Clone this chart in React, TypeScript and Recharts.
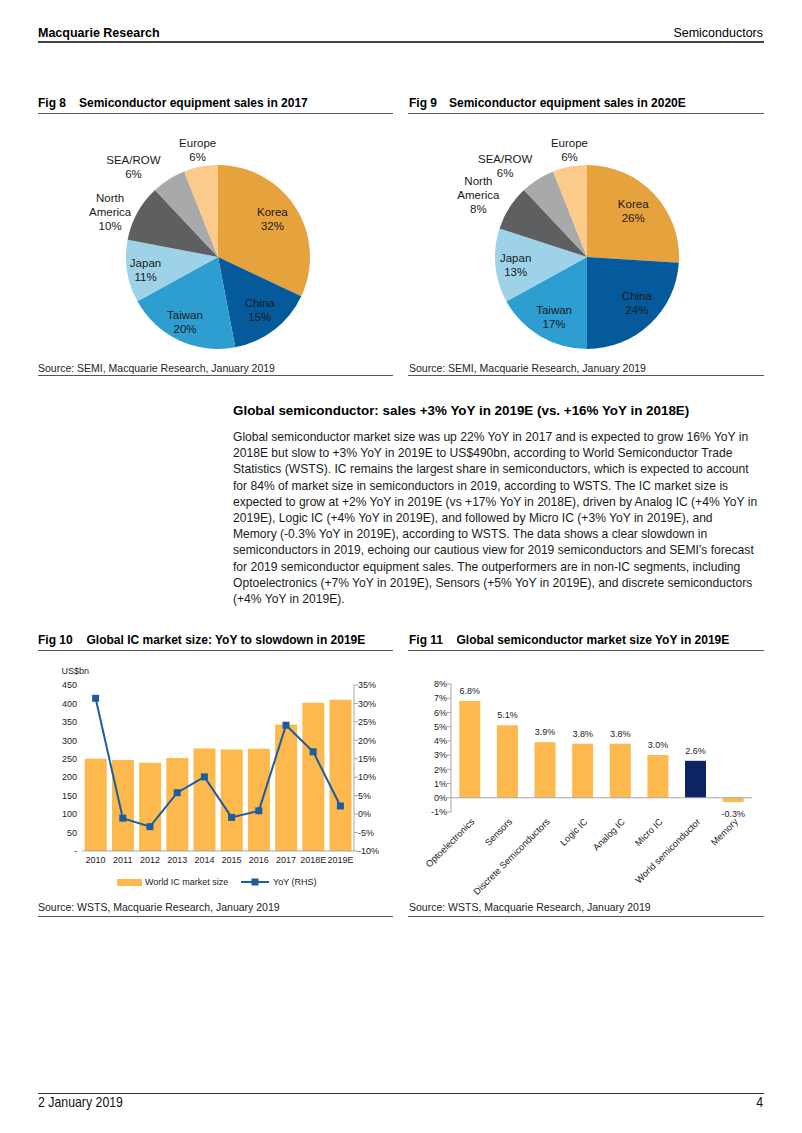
import React from "react";
import {
  PieChart,
  Pie,
  Cell,
  ComposedChart,
  BarChart,
  Bar,
  Line,
  XAxis,
  YAxis,
  ReferenceLine,
  LabelList,
} from "recharts";

const FONT = '"Liberation Sans", Arial, Helvetica, sans-serif';

// Fig 8 / Fig 9 - equipment sales share by region
const regions = ["Korea", "China", "Taiwan", "Japan", "North America", "SEA/ROW", "Europe"];
const share2017 = [32, 15, 20, 11, 10, 6, 6];
const share2020E = [26, 24, 17, 13, 8, 6, 6];
const regionColors = ["#E6A23C", "#045A9B", "#2E9DD0", "#9ED2E8", "#5E5F61", "#A8A9AB", "#FCCB8C"];

// label placement: [radius factor, angle nudge in degrees]
const labelPos2017 = [[0.72, 2.4], [0.73, 0.6], [0.79, -1.8], [0.8, 1.1], [1.27, 6.2], [1.34, 10.9], [1.18, 0]];
const labelPos2020 = [[0.71, 1.8], [0.74, 3.9], [0.74, 1.7], [0.78, 0.7], [1.36, 2.6], [1.33, 9.6], [1.18, -1.5]];

// Fig 10 - global IC market size
const years = ["2010", "2011", "2012", "2013", "2014", "2015", "2016", "2017", "2018E", "2019E"];
const icMarketSize = [250, 247, 239, 252, 278, 275, 277, 343, 402, 410];
const icYoY = [31.4, -1.1, -3.4, 5.8, 10.1, -0.9, 0.9, 24.1, 16.9, 2.2];
const sizeTicks = [0, 50, 100, 150, 200, 250, 300, 350, 400, 450];
const yoyTicks = [-10, -5, 0, 5, 10, 15, 20, 25, 30, 35];

// Fig 11 - semiconductor segments YoY 2019E
const segments = [
  "Optoelectronics",
  "Sensors",
  "Discrete Semiconductors",
  "Logic IC",
  "Analog IC",
  "Micro IC",
  "World semiconductor",
  "Memory",
];
const segmentYoY = [6.8, 5.1, 3.9, 3.8, 3.8, 3.0, 2.6, -0.3];
const segTicks = [-1, 0, 1, 2, 3, 4, 5, 6, 7, 8];

const paragraph = [
  "Global semiconductor market size was up 22% YoY in 2017 and is expected to grow 16% YoY in",
  "2018E but slow to +3% YoY in 2019E to US$490bn, according to World Semiconductor Trade",
  "Statistics (WSTS). IC remains the largest share in semiconductors, which is expected to account",
  "for 84% of market size in semiconductors in 2019, according to WSTS. The IC market size is",
  "expected to grow at +2% YoY in 2019E (vs +17% YoY in 2018E), driven by Analog IC (+4% YoY in",
  "2019E), Logic IC (+4% YoY in 2019E), and followed by Micro IC (+3% YoY in 2019E), and",
  "Memory (-0.3% YoY in 2019E), according to WSTS. The data shows a clear slowdown in",
  "semiconductors in 2019, echoing our cautious view for 2019 semiconductors and SEMI\u2019s forecast",
  "for 2019 semiconductor equipment sales. The outperformers are in non-IC segments, including",
  "Optoelectronics (+7% YoY in 2019E), Sensors (+5% YoY in 2019E), and discrete semiconductors",
  "(+4% YoY in 2019E).",
];

const ORANGE = "#FDB94D";
const NAVY = "#0C2461";
const LINE_BLUE = "#1B5E9E";
const AXIS_GREY = "#A6A6A6";

const pie2017 = regions.map((name, i) => ({ name, value: share2017[i] }));
const pie2020 = regions.map((name, i) => ({ name, value: share2020E[i] }));
const icData = years.map((year, i) => ({ year, size: icMarketSize[i], yoy: icYoY[i] }));
const segData = segments.map((name, i) => ({ name, yoy: segmentYoY[i] }));

const RAD = Math.PI / 180;

function makePieLabel(pos: number[][]) {
  return (props: any) => {
    const { cx, cy, midAngle, outerRadius, index, name, value } = props;
    const [f, nudge] = pos[index];
    const a = (midAngle + nudge) * RAD;
    const x = cx + outerRadius * f * Math.cos(-a);
    const y = cy + outerRadius * f * Math.sin(-a);
    const lines = [...String(name).split(" "), `${value}%`];
    const lh = 14;
    return (
      <text x={x} y={y} textAnchor="middle" fontSize={11.5} fill="#1a1a1a" fontFamily={FONT}>
        {lines.map((t, k) => (
          <tspan key={k} x={x} dy={k === 0 ? -((lines.length - 1) * lh) / 2 + 4 : lh}>
            {t}
          </tspan>
        ))}
      </text>
    );
  };
}

function T({ left, top, size, bold, children, right, color, squeeze }: any) {
  return (
    <div
      style={{
        position: "absolute",
        left,
        right,
        top,
        fontSize: size,
        lineHeight: `${size}px`,
        fontWeight: bold ? "bold" : "normal",
        fontFamily: FONT,
        color: color || "#111",
        whiteSpace: "nowrap",
        transform: squeeze ? `scaleX(${squeeze})` : undefined,
        transformOrigin: right != null ? "right center" : "left center",
      }}
    >
      {children}
    </div>
  );
}

function HLine({ left, width, top, thick, color }: any) {
  return (
    <div
      style={{
        position: "absolute",
        left,
        width,
        top,
        height: thick || 1,
        background: color || "#444",
      }}
    />
  );
}

function FigTitle({ left, top, num, indent, text }: any) {
  return (
    <>
      <T left={left} top={top} size={12} bold color="#000">{`Fig ${num}`}</T>
      <T left={left + indent} top={top} size={12} bold color="#000">{text}</T>
    </>
  );
}

function SegTick(props: any) {
  const { x, y, payload } = props;
  return (
    <g transform={`translate(${x + 3},${y + 2})`}>
      <text x={0} y={0} dy="0.35em" textAnchor="end" transform="rotate(-45)" fontSize={9.3} fill="#222" fontFamily={FONT}>
        {payload.value}
      </text>
    </g>
  );
}

function SegValueLabel(props: any) {
  const { x, y, width, height, value } = props;
  const top = Math.min(y, y + height);
  const bottom = Math.max(y, y + height);
  const ty = value < 0 ? bottom + 12 : top - 10;
  return (
    <text x={x + width / 2} y={ty} dy="0.35em" textAnchor="middle" fontSize={9} fill="#222" fontFamily={FONT}>
      {`${value.toFixed(1)}%`}
    </text>
  );
}

function SquareDot(props: any) {
  const { cx, cy } = props;
  if (cx == null || cy == null) return null;
  return <rect x={cx - 3.5} y={cy - 3.5} width={7} height={7} fill={LINE_BLUE} />;
}

const tickStyle = { fontSize: 9, fill: "#222", fontFamily: FONT };

export default function App() {
  return (
    <div
      style={{
        position: "absolute",
        left: 0,
        top: 0,
        width: 802,
        height: 1133,
        background: "#fff",
        fontFamily: FONT,
        overflow: "hidden",
      }}
    >
      {/* header */}
      <T left={38} top={27} size={12.5} bold color="#000">Macquarie Research</T>
      <T right={39} top={27} size={12.5} color="#000">Semiconductors</T>
      <HLine left={38} width={726} top={41} thick={1.5} color="#444" />

      {/* Fig 8 */}
      <FigTitle left={38} top={97} num={8} indent={41} text="Semiconductor equipment sales in 2017" />
      <HLine left={38} width={355} top={112.5} thick={1.3} color="#555" />
      <div style={{ position: "absolute", left: 30, top: 130 }}>
        <PieChart width={370} height={240}>
          <Pie
            data={pie2017}
            dataKey="value"
            nameKey="name"
            cx={183}
            cy={122}
            outerRadius={92}
            startAngle={90}
            endAngle={-270}
            stroke="none"
            isAnimationActive={false}
            labelLine={false}
            label={makePieLabel(labelPos2017)}
          >
            {pie2017.map((d, i) => (
              <Cell key={d.name} fill={regionColors[i]} />
            ))}
          </Pie>
        </PieChart>
      </div>
      <T left={38} top={362.5} size={10.5} color="#222">Source: SEMI, Macquarie Research, January 2019</T>
      <HLine left={38} width={355} top={375} thick={1} color="#555" />

      {/* Fig 9 */}
      <FigTitle left={409} top={97} num={9} indent={40} text="Semiconductor equipment sales in 2020E" />
      <HLine left={408} width={356} top={112.5} thick={1.3} color="#555" />
      <div style={{ position: "absolute", left: 400, top: 130 }}>
        <PieChart width={370} height={240}>
          <Pie
            data={pie2020}
            dataKey="value"
            nameKey="name"
            cx={182}
            cy={122}
            outerRadius={92}
            startAngle={90}
            endAngle={-270}
            stroke="none"
            isAnimationActive={false}
            labelLine={false}
            label={makePieLabel(labelPos2020)}
          >
            {pie2020.map((d, i) => (
              <Cell key={d.name} fill={regionColors[i]} />
            ))}
          </Pie>
        </PieChart>
      </div>
      <T left={409} top={362.5} size={10.5} color="#222">Source: SEMI, Macquarie Research, January 2019</T>
      <HLine left={408} width={356} top={375} thick={1} color="#555" />

      {/* text block */}
      <T left={233} top={404.3} size={13.4} bold color="#000">
        Global semiconductor: sales +3% YoY in 2019E (vs. +16% YoY in 2018E)
      </T>
      <div
        style={{
          position: "absolute",
          left: 233,
          top: 428.9,
          fontSize: 12.1,
          lineHeight: "16.2px",
          color: "#1a1a1a",
          whiteSpace: "nowrap",
        }}
      >
        {paragraph.map((l, i) => (
          <div key={i}>{l}</div>
        ))}
      </div>

      {/* Fig 10 */}
      <FigTitle left={38} top={634} num={10} indent={48.5} text="Global IC market size: YoY to slowdown in 2019E" />
      <HLine left={38} width={355} top={649.5} thick={1.3} color="#555" />
      <T left={61.5} top={667} size={9} color="#222">US$bn</T>
      <div style={{ position: "absolute", left: 30, top: 655 }}>
        <ComposedChart
          width={358}
          height={216}
          data={icData}
          margin={{ top: 30, right: 0, bottom: 0, left: 0 }}
          barCategoryGap="10%"
        >
          <XAxis
            dataKey="year"
            interval={0}
            tickLine={false}
            axisLine={{ stroke: AXIS_GREY }}
            tick={tickStyle}
            tickSize={6}
            tickMargin={0}
            height={20}
          />
          <YAxis
            yAxisId="left"
            domain={[0, 450]}
            ticks={sizeTicks}
            interval={0}
            tickFormatter={(v: number) => (v === 0 ? "-" : String(v))}
            axisLine={false}
            tickLine={false}
            tickSize={5}
            tickMargin={0}
            tick={tickStyle}
            width={52}
          />
          <YAxis
            yAxisId="right"
            orientation="right"
            domain={[-10, 35]}
            ticks={yoyTicks}
            interval={0}
            tickFormatter={(v: number) => `${v}%`}
            axisLine={{ stroke: AXIS_GREY }}
            tickLine={{ stroke: AXIS_GREY }}
            tickSize={4}
            tickMargin={0}
            tick={tickStyle}
            width={34}
          />
          <Bar yAxisId="left" dataKey="size" fill={ORANGE} isAnimationActive={false} />
          <Line
            yAxisId="right"
            dataKey="yoy"
            type="linear"
            stroke={LINE_BLUE}
            strokeWidth={2}
            dot={<SquareDot />}
            activeDot={false}
            isAnimationActive={false}
          />
        </ComposedChart>
      </div>
      {/* legend */}
      <div style={{ position: "absolute", left: 117, top: 878.5, width: 25, height: 7, background: ORANGE }} />
      <T left={145} top={877.5} size={9} color="#222">World IC market size</T>
      <svg style={{ position: "absolute", left: 241, top: 877 }} width={28} height={10}>
        <line x1={0} y1={5} x2={28} y2={5} stroke={LINE_BLUE} strokeWidth={2} />
        <rect x={10.5} y={1.5} width={7} height={7} fill={LINE_BLUE} />
      </svg>
      <T left={273} top={877.5} size={9} color="#222">YoY (RHS)</T>
      <T left={38} top={901.5} size={10.5} color="#222">Source: WSTS, Macquarie Research, January 2019</T>
      <HLine left={38} width={355} top={915.5} thick={1} color="#555" />

      {/* Fig 11 */}
      <FigTitle left={409} top={634} num={11} indent={47.5} text="Global semiconductor market size YoY in 2019E" />
      <HLine left={408} width={356} top={649.5} thick={1.3} color="#555" />
      <div style={{ position: "absolute", left: 400, top: 674 }}>
        <BarChart
          width={362}
          height={228}
          data={segData}
          margin={{ top: 10, right: 10, bottom: 0, left: 0 }}
          barCategoryGap="22%"
        >
          <XAxis
            dataKey="name"
            interval={0}
            tickLine={false}
            axisLine={false}
            tickSize={4}
            tickMargin={2}
            tick={<SegTick />}
            height={90}
          />
          <YAxis
            domain={[-1, 8]}
            ticks={segTicks}
            interval={0}
            tickFormatter={(v: number) => `${v}%`}
            axisLine={{ stroke: AXIS_GREY }}
            tickLine={{ stroke: AXIS_GREY }}
            tickSize={4}
            tickMargin={0}
            tick={tickStyle}
            width={51}
          />
          <ReferenceLine y={0} stroke={AXIS_GREY} />
          <Bar dataKey="yoy" isAnimationActive={false}>
            {segData.map((d) => (
              <Cell key={d.name} fill={d.name === "World semiconductor" ? NAVY : ORANGE} />
            ))}
            <LabelList dataKey="yoy" content={<SegValueLabel />} />
          </Bar>
        </BarChart>
      </div>
      <T left={409} top={901.5} size={10.5} color="#222">Source: WSTS, Macquarie Research, January 2019</T>
      <HLine left={408} width={356} top={915.5} thick={1} color="#555" />

      {/* footer */}
      <HLine left={38} width={726} top={1093} thick={1} color="#333" />
      <T left={38} top={1095} size={14.5} squeeze={0.85} color="#111">2 January 2019</T>
      <T right={39} top={1095} size={14.5} squeeze={0.85} color="#111">4</T>
    </div>
  );
}
